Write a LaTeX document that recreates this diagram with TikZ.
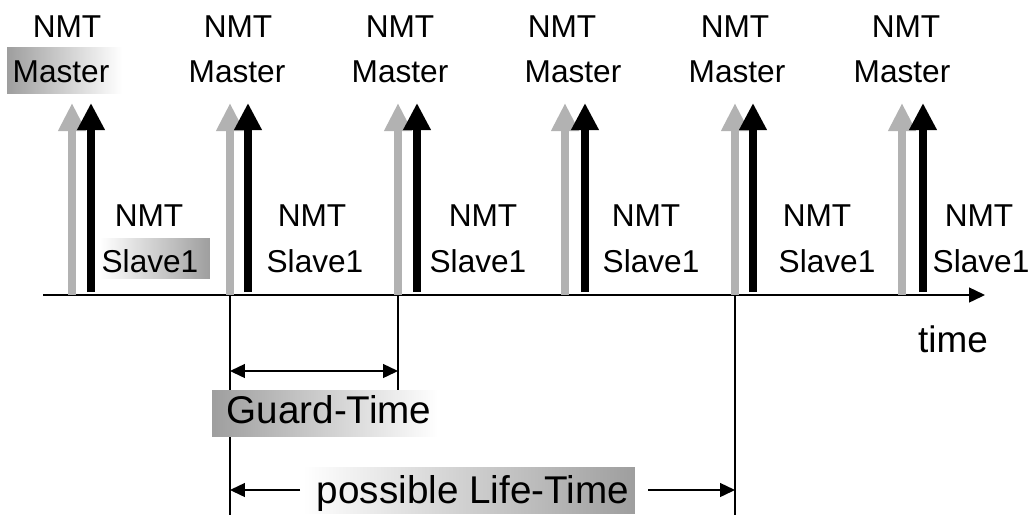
\documentclass[tikz,border=0pt]{standalone}
\usepackage{fontspec}
\setmainfont{Liberation Sans}
\usetikzlibrary{arrows.meta, positioning}
\definecolor{sendgray}{gray}{0.70}
\definecolor{boxgray}{gray}{0.62}

\begin{document}
\begin{tikzpicture}[x=0.02cm, y=-0.02cm,
    toptxt/.style={font=\fontsize{18}{20}\selectfont, inner sep=0pt, anchor=base},
    bottxt/.style={font=\fontsize{22}{24}\selectfont, inner sep=0pt, anchor=base},
    fadebox/.style={inner sep=0pt, minimum height=0.92cm},
    masterarrow/.style={sendgray, line width=0.16cm, -{Triangle[width=0.52cm, length=0.56cm]}},
    slavearrow/.style={black, line width=0.16cm, -{Triangle[width=0.52cm, length=0.54cm]}},
    timeaxis/.style={line width=0.8pt, -{Triangle[width=0.3cm, length=0.32cm]}},
    marker/.style={line width=0.8pt},
    span/.style={line width=0.8pt, {Triangle[width=0.28cm, length=0.3cm]}-{Triangle[width=0.28cm, length=0.3cm]}},
    halfspan/.style={line width=0.8pt, -{Triangle[width=0.28cm, length=0.3cm]}}
  ]
  \useasboundingbox (0,0) rectangle (1035,515);

  % time axis
  \coordinate (t0) at (43,295);
  \coordinate (t1) at (985,295);
  \draw[timeaxis] (t0) -- (t1);
  \node[bottxt, font=\fontsize{21}{24}\selectfont] (time) at (953,352) {time};

  % marker lines
  \coordinate (ga) at (230,295);
  \coordinate (gb) at (398,295);
  \coordinate (lb) at (735,295);
  \coordinate (gaend) at (230,515);
  \coordinate (gbend) at (398,390);
  \coordinate (lbend) at (735,515);
  \draw[marker] (ga) -- (gaend);
  \draw[marker] (gb) -- (gbend);
  \draw[marker] (lb) -- (lbend);

  % shaded boxes
  \node[fadebox, left color=boxgray, right color=white, minimum width=2.3cm] (mbox) at (64.5,70) {};
  \node[fadebox, left color=white, right color=boxgray, minimum width=2.2cm, minimum height=0.8cm] (sbox) at (155,258) {};
  \node[fadebox, left color=boxgray, right color=white, minimum width=4.52cm] (gbox) at (325,413) {};
  \node[fadebox, left color=white, right color=boxgray, minimum width=6.64cm] (lbox) at (469,490) {};

  % master / slave messages
  \foreach \n/\gx/\bx/\mnx/\mmx/\snx/\ssx in {1/72/91/67/61/149/150, 2/230/248/238/237/312/315,
      3/398/417/400/400/483/478, 4/565/585/562/573/646/651,
      5/735/753/735/737/817/827, 6/902/923/906/902/979/981}{
    \coordinate (gb\n) at (\gx,295);
    \coordinate (gt\n) at (\gx,103);
    \coordinate (bb\n) at (\bx,292);
    \coordinate (bt\n) at (\bx,103);
    \draw[masterarrow] (gb\n) -- (gt\n);
    \draw[slavearrow] (bb\n) -- (bt\n);
    \node[toptxt] (mn\n) at (\mnx,37) {NMT};
    \node[toptxt] (mm\n) at (\mmx,82) {Master};
    \node[toptxt] (sn\n) at (\snx,226) {NMT};
    \node[toptxt] (ss\n) at (\ssx,272) {Slave1};
  }

  % guard time
  \coordinate (gl) at (230,371);
  \coordinate (gr) at (398,371);
  \draw[span] (gl) -- (gr);
  \node[bottxt] (guard) at (329,423) {Guard-Time};

  % life time
  \node[bottxt] (life) at (473,503) {possible Life-Time};
  \coordinate (ll) at (230,490);
  \coordinate (lr) at (735,490);
  \coordinate (lls) at (300,490);
  \coordinate (lrs) at (648,490);
  \draw[halfspan] (lls) -- (ll);
  \draw[halfspan] (lrs) -- (lr);
\end{tikzpicture}
\end{document}
